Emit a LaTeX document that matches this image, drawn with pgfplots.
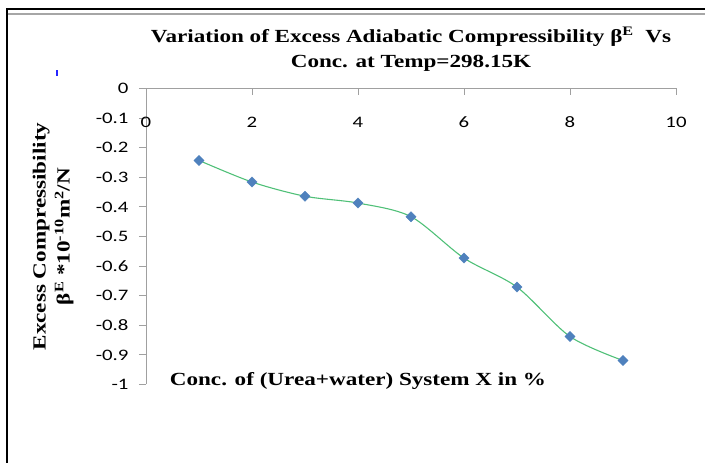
\documentclass[border=0pt]{standalone}
\usepackage{pgfplots}
\pgfplotsset{compat=1.18}
\usepackage{fontspec}
\setmainfont{Liberation Serif}
\newfontfamily\tb[FakeStretch=1.25]{Liberation Serif}
\newfontfamily\calfont[FakeStretch=1.3]{Carlito}
\definecolor{axgray}{RGB}{160,160,160}
\definecolor{ptblue}{RGB}{79,129,189}
\definecolor{lngreen}{RGB}{80,192,120}
\begin{document}
\begin{tikzpicture}[x=1pt,y=1pt]
\useasboundingbox (0,0) rectangle (705,463);
\draw[black, line width=2pt] (6.5,0) -- (6.5,453.5) -- (705,453.5);
\draw[gray!70, line width=1.6pt] (7.5,449) -- (705,449);
\fill[blue!85] (55.5,387) rectangle (57.5,393);
\begin{axis}[
  at={(146pt,78.5pt)}, anchor=south west,
  scale only axis, width=530pt, height=296pt,
  xmin=0, xmax=10, ymin=-1, ymax=0,
  axis x line=top, axis y line=left,
  axis line style={axgray, -, line width=0.9pt},
  xtick={0,2,4,6,8,10},
  ytick={0,-0.1,-0.2,-0.3,-0.4,-0.5,-0.6,-0.7,-0.8,-0.9,-1},
  tick align=inside,
  major tick length=7pt,
  tick style={axgray, line width=0.9pt},
  y tick style={xshift=-7pt},
  /pgf/number format/assume math mode=true,
  ticklabel style={font=\calfont\fontsize{16}{16}\selectfont},
  xticklabel style={anchor=center, yshift=-33.5pt},
  yticklabel style={xshift=-14pt},
  title={Variation of Excess Adiabatic Compressibility β\textsuperscript{E}\ \ Vs\\Conc. at Temp=298.15K},
  title style={font=\tb\bfseries\fontsize{18.5}{25}\selectfont, align=center, at={(axis description cs:0.5,1)}, anchor=south, yshift=8pt},
  xlabel={Conc. of (Urea+water) System X in \%},
  xlabel style={font=\tb\bfseries\fontsize{18.5}{22}\selectfont, at={(axis description cs:0.4,0.012)}, anchor=center},
  ylabel={Excess Compressibility\\β\textsuperscript{E} *10\textsuperscript{-10}m\textsuperscript{2}/N},
  ylabel style={font=\tb\bfseries\fontsize{18.5}{24}\selectfont, align=center, at={(axis description cs:-0.13,0.5)}, anchor=south},
  clip=false,
]
\addplot[color=lngreen, line width=1.1pt, smooth, tension=0.5,
  mark=square*, mark size=3.6pt,
  mark options={rotate=45, fill=ptblue, draw=ptblue, line width=0.4pt}]
  coordinates {
  (1,-0.243) (2,-0.316) (3,-0.364) (4,-0.387) (5,-0.433)
  (6,-0.573) (7,-0.671) (8,-0.838) (9,-0.919)
  };
\end{axis}
\end{tikzpicture}
\end{document}
